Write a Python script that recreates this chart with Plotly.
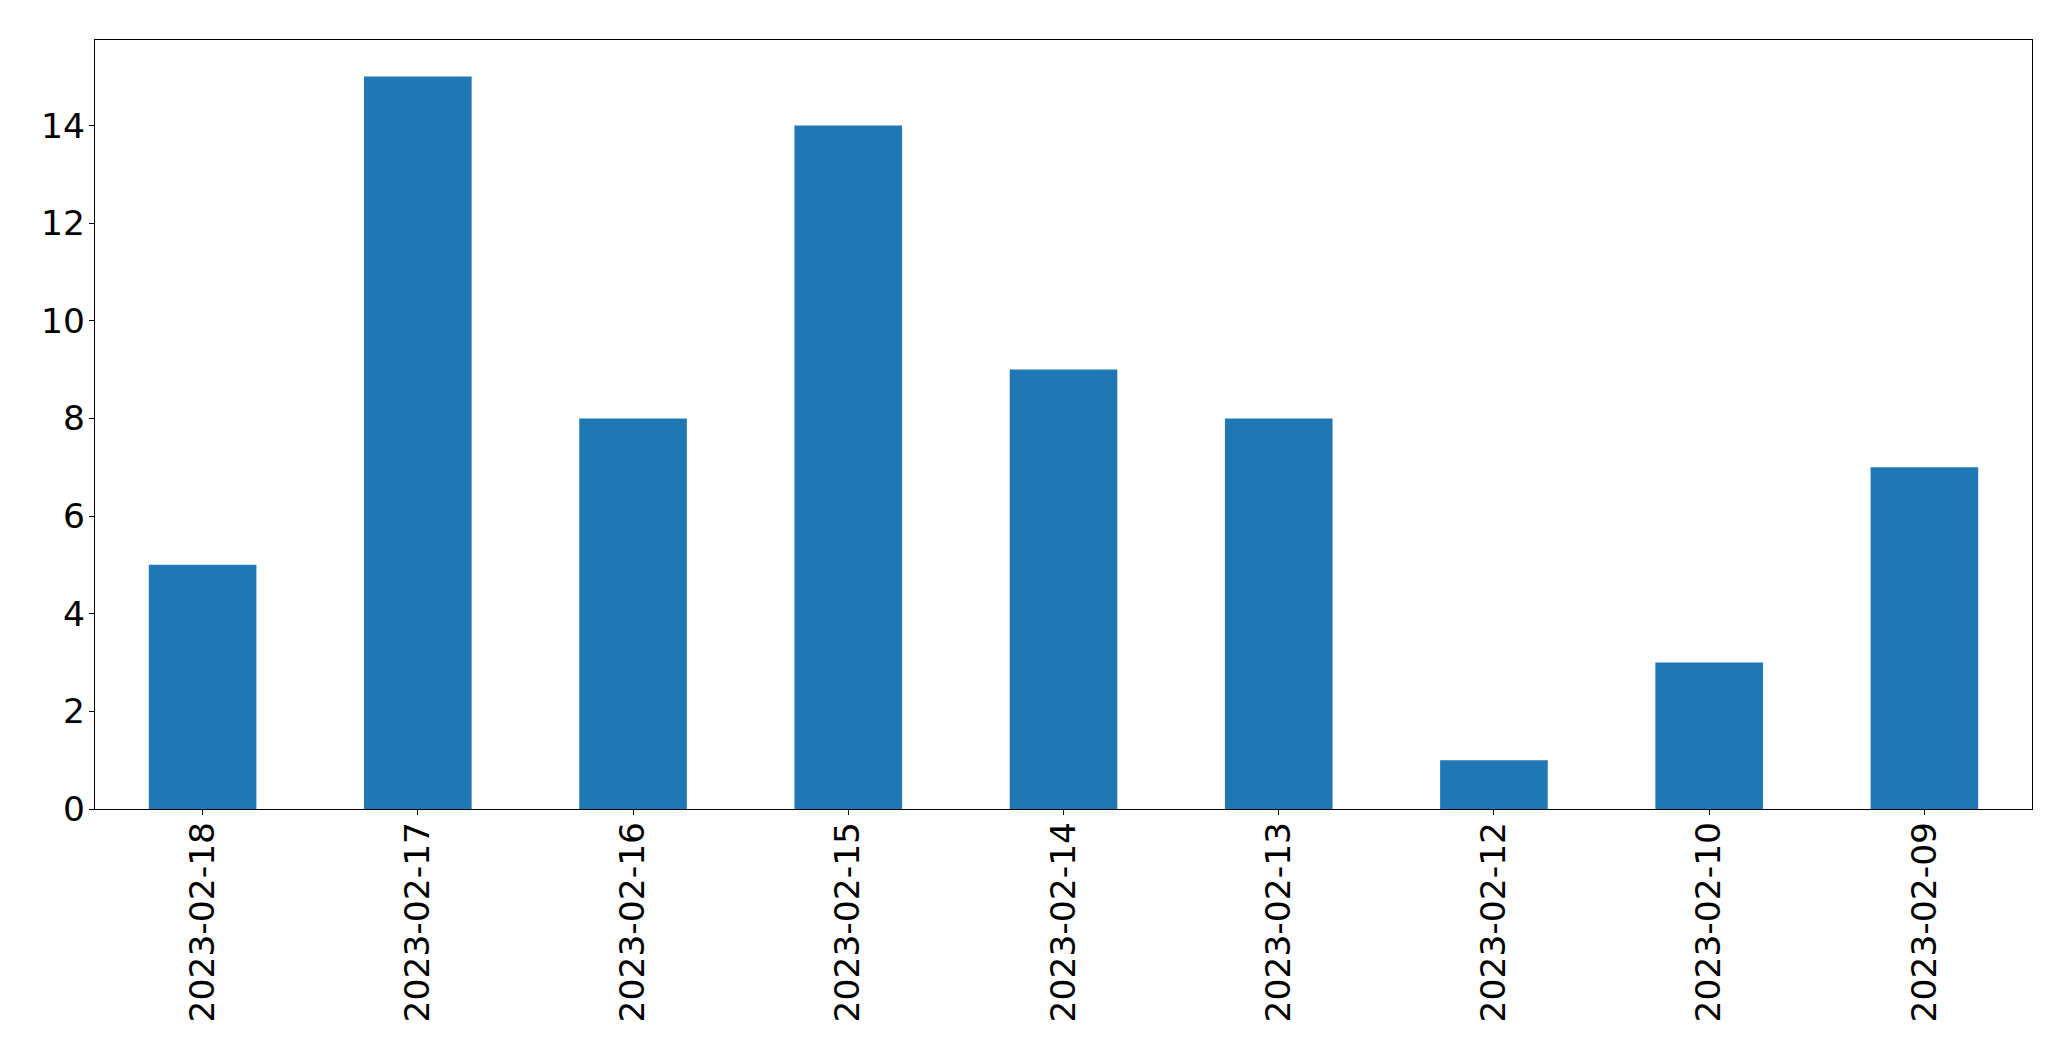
import plotly.graph_objects as go

dates = ["2023-02-18", "2023-02-17", "2023-02-16", "2023-02-15", "2023-02-14",
         "2023-02-13", "2023-02-12", "2023-02-10", "2023-02-09"]
counts = [5, 15, 8, 14, 9, 8, 1, 3, 7]
y_ticks = [0, 2, 4, 6, 8, 10, 12, 14]

fig = go.Figure(go.Bar(x=dates, y=counts, width=0.5, marker=dict(color="#1f77b4", line=dict(width=0))))

font = dict(family="DejaVu Sans", size=34.5, color="black")
# page body has an 8px default margin; compensate
fig.update_layout(
    width=2055, height=1045, autosize=False,
    margin=dict(l=86.5, r=31, t=31.5, b=244, pad=0),
    plot_bgcolor="white", paper_bgcolor="white",
    showlegend=False, font=font,
)
fig.update_xaxes(type="category", range=[-0.5, 8.5], tickangle=-90,
                 showline=True, linecolor="black", linewidth=1.3, mirror=True,
                 ticks="outside", ticklen=5, tickwidth=1.3, tickcolor="black",
                 showgrid=False, zeroline=False, automargin=False, tickfont=font,
                 ticklabelstandoff=-7)
fig.update_yaxes(range=[0, 15.75], tickvals=y_ticks,
                 showline=True, linecolor="black", linewidth=1.3, mirror=True,
                 ticks="outside", ticklen=5, tickwidth=1.3, tickcolor="black",
                 showgrid=False, zeroline=False, automargin=False, tickfont=font,
                 ticklabelstandoff=-3)
fig.write_html("out.html")
